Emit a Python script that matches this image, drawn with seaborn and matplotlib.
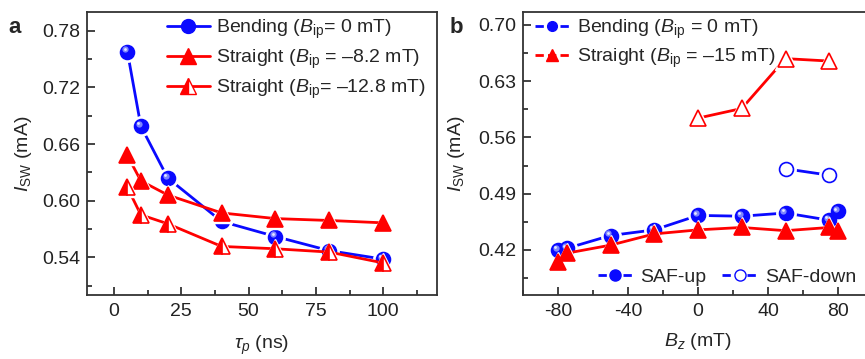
import matplotlib
matplotlib.use("Agg")
import matplotlib.pyplot as plt
import seaborn as sns
from matplotlib.lines import Line2D
from matplotlib.ticker import MultipleLocator
from matplotlib.transforms import offset_copy

# ---------------- data ----------------
tau_ns = [5, 10, 20, 40, 60, 80, 100]
bend_a = [0.758, 0.679, 0.624, 0.578, 0.562, 0.547, 0.538]
straight82_a = [0.648, 0.621, 0.606, 0.587, 0.581, 0.579, 0.5765]
straight128_a = [0.614, 0.585, 0.5755, 0.5515, 0.549, 0.5455, 0.534]

bz_up = [-80, -75, -50, -25, 0, 25, 50, 75, 80]
bend_up = [0.420, 0.422, 0.438, 0.445, 0.463, 0.462, 0.466, 0.457, 0.468]
straight_up = [0.405, 0.416, 0.426, 0.440, 0.445, 0.448, 0.444, 0.448, 0.443]
bz_down_bend = [50, 75]
bend_down = [0.521, 0.513]
bz_down_straight = [0, 25, 50, 75]
straight_down = [0.584, 0.596, 0.658, 0.655]

# ---------------- style ----------------
sns.set_style("ticks")
plt.rcParams["font.family"] = ["Liberation Sans", "DejaVu Sans"]
plt.rcParams["mathtext.fontset"] = "custom"
plt.rcParams["mathtext.rm"] = "Liberation Sans"
plt.rcParams["mathtext.it"] = "Liberation Sans:italic"
plt.rcParams["mathtext.bf"] = "Liberation Sans:bold"
plt.rcParams["axes.unicode_minus"] = False

BLUE = "#0a0aff"
RED = "#ff0000"
FS = 14

fig = plt.figure(figsize=(8.65, 3.59), dpi=100)
W, H = 865, 359
axA = fig.add_axes([87 / W, (H - 295) / H, 350 / W, 283 / H])
axB = fig.add_axes([523 / W, (H - 295) / H, 350 / W, 283 / H])


def draw_series(ax, x, y, color, marker, ms, face, fill="full", alt="none",
                sphere=False, z=2):
    sns.lineplot(x=x, y=y, ax=ax, color=color, lw=2.0, sort=False,
                 estimator=None, zorder=z)
    # white halo emulating the gap between line and symbol
    ax.plot(x, y, ls="none", marker=marker, ms=ms + 4, mfc="white",
            mec="white", zorder=z + 0.1)
    ax.plot(x, y, ls="none", marker=marker, ms=ms, mfc=face, mec=color,
            fillstyle=fill, markerfacecoloralt=alt, mew=1.2, zorder=z + 0.2)
    if sphere:
        tr = offset_copy(ax.transData, fig=fig, x=-1.6, y=1.6, units="points")
        ax.plot(x, y, ls="none", marker="o", ms=ms * 0.45, mfc="#7d86ff",
                mec="none", transform=tr, zorder=z + 0.3)
        tr2 = offset_copy(ax.transData, fig=fig, x=-2.0, y=2.0, units="points")
        ax.plot(x, y, ls="none", marker="o", ms=ms * 0.2, mfc="#e6e8ff",
                mec="none", transform=tr2, zorder=z + 0.4)


def style_axes(ax):
    for s in ax.spines.values():
        s.set_linewidth(1.3)
        s.set_color("#333333")
        s.set_visible(True)
    ax.tick_params(which="both", direction="in", top=False, right=False,
                   labelsize=FS, colors="#222222", width=1.2)
    ax.tick_params(which="major", length=6, pad=6)
    ax.tick_params(axis="y", which="major", pad=5)
    ax.tick_params(which="minor", length=3.5)
    ax.grid(False)


# ---------------- panel a ----------------
draw_series(axA, tau_ns, bend_a, BLUE, "o", 10, BLUE, sphere=True, z=2)
draw_series(axA, tau_ns, straight82_a, RED, "^", 11, RED, z=3)
draw_series(axA, tau_ns, straight128_a, RED, "^", 11, RED, fill="left",
            alt="white", z=4)
axA.set_xlim(-10, 120)
axA.set_ylim(0.50, 0.80)
axA.xaxis.set_major_locator(MultipleLocator(25))
axA.xaxis.set_minor_locator(MultipleLocator(12.5))
axA.yaxis.set_major_locator(MultipleLocator(0.06))
axA.yaxis.set_minor_locator(MultipleLocator(0.03))
axA.yaxis.set_major_formatter(plt.FormatStrFormatter("%.2f"))
style_axes(axA)
axA.set_xlabel(r"$\tau_p$ (ns)", fontsize=FS, labelpad=10)
axA.set_ylabel(r"$I_{\rm SW}$ (mA)", fontsize=FS, labelpad=6)

hA = [
    Line2D([], [], color=BLUE, lw=2, marker="o", ms=10, mfc=BLUE, mec=BLUE),
    Line2D([], [], color=RED, lw=2, marker="^", ms=11, mfc=RED, mec=RED),
    Line2D([], [], color=RED, lw=2, marker="^", ms=11, mfc=RED, mec=RED,
           fillstyle="left", markerfacecoloralt="white"),
]
lA = [r"Bending ($B_{\rm ip}$= 0 mT)",
      r"Straight ($B_{\rm ip}$ = –8.2 mT)",
      r"Straight ($B_{\rm ip}$= –12.8 mT)"]
axA.legend(hA, lA, loc="upper right", bbox_to_anchor=(1.0, 1.02),
           frameon=False, fontsize=FS, handlelength=2.2, handletextpad=0.3,
           labelspacing=0.35, borderaxespad=0.2)

# ---------------- panel b ----------------
draw_series(axB, bz_up, bend_up, BLUE, "o", 10, BLUE, sphere=True, z=2)
draw_series(axB, bz_up, straight_up, RED, "^", 11, RED, z=3)
draw_series(axB, bz_down_bend, bend_down, BLUE, "o", 10, "white", z=4)
draw_series(axB, bz_down_straight, straight_down, RED, "^", 12, "white", z=5)
axB.set_xlim(-100, 100)
axB.set_ylim(0.364, 0.716)
axB.xaxis.set_major_locator(MultipleLocator(40))
axB.xaxis.set_minor_locator(MultipleLocator(20))
axB.yaxis.set_major_locator(MultipleLocator(0.07))
axB.yaxis.set_minor_locator(MultipleLocator(0.035))
axB.yaxis.set_major_formatter(plt.FormatStrFormatter("%.2f"))
axB.xaxis.set_major_formatter(plt.FuncFormatter(lambda v, p: f"{v:.0f}"))
style_axes(axB)
axB.set_xlabel(r"$B_z$ (mT)", fontsize=FS, labelpad=8)
axB.set_ylabel(r"$I_{\rm SW}$ (mA)", fontsize=FS, labelpad=8)

hB1 = [
    Line2D([], [], color=BLUE, lw=2, ls=(0, (3, 1.5)), marker="o", ms=7,
           mfc=BLUE, mec=BLUE),
    Line2D([], [], color=RED, lw=2, ls=(0, (3, 1.5)), marker="^", ms=8,
           mfc=RED, mec=RED),
]
lB1 = [r"Bending ($B_{\rm ip}$ = 0 mT)", r"Straight ($B_{\rm ip}$ = –15 mT)"]
leg1 = axB.legend(hB1, lB1, loc="upper left", bbox_to_anchor=(0.0, 1.02),
                  frameon=False, fontsize=FS, handlelength=1.8,
                  handletextpad=0.4, labelspacing=0.3, borderaxespad=0.2)
axB.add_artist(leg1)
hB2 = [
    Line2D([], [], color=BLUE, lw=2, ls=(0, (3, 1.5)), marker="o", ms=8,
           mfc=BLUE, mec=BLUE),
    Line2D([], [], color=BLUE, lw=2, ls=(0, (3, 1.5)), marker="o", ms=8,
           mfc="white", mec=BLUE),
]
axB.legend(hB2, ["SAF-up", "SAF-down"], loc="lower right",
           bbox_to_anchor=(0.985, -0.01), ncol=2, frameon=False, fontsize=FS,
           handlelength=1.8, handletextpad=0.4, columnspacing=0.8,
           borderaxespad=0.2)

# panel letters
fig.text(8 / W, 1 - 33 / H, "a", fontsize=16, fontweight="bold")
fig.text(450 / W, 1 - 33 / H, "b", fontsize=16, fontweight="bold")

fig.savefig("out.png", dpi=100)
